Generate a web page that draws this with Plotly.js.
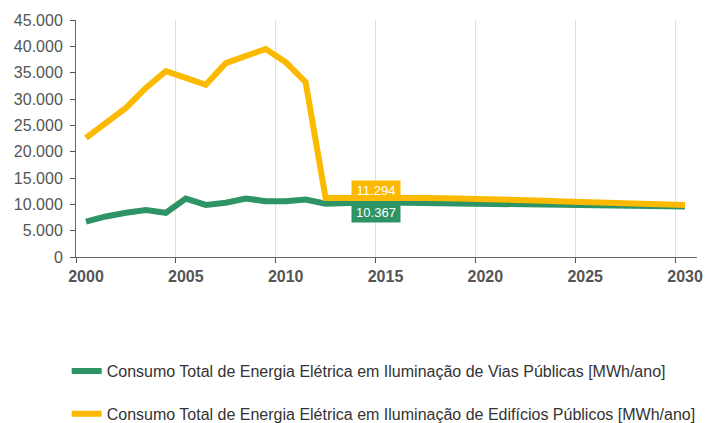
<!DOCTYPE html>
<html>
<head>
<meta charset="utf-8">
<script src="https://cdn.plot.ly/plotly-3.0.1.min.js"></script>
<style>
  html, body { margin: 0; padding: 0; background: #fff; }
  #graph { width: 707px; height: 423px; }
</style>
</head>
<body>
<div id="graph"></div>
<script>
// anos (os pontos ficam no meio de cada ano)
const anos = [2000, 2001, 2002, 2003, 2004, 2005, 2006, 2007, 2008, 2009,
              2010, 2011, 2012, 2013, 2014, 2015, 2016, 2017, 2018, 2019,
              2020, 2021, 2022, 2023, 2024, 2025, 2026, 2027, 2028, 2029, 2030];

// Vias publicas [MWh/ano]
const viasPublicas = [6700, 7700, 8400, 8900, 8400, 11100, 9900, 10300, 11100, 10600,
                      10600, 10900, 10100, 10300, 10367, 10350, 10300, 10250, 10200, 10150,
                      10100, 10050, 10000, 9950, 9900, 9850, 9800, 9750, 9700, 9650, 9600];

// Edificios publicos [MWh/ano]
const edificiosPublicos = [22600, 25300, 28300, 32100, 35300, 34000, 32700, 36800, 38300, 39500,
                           37000, 33200, 11200, 11250, 11294, 11290, 11250, 11200, 11150, 11100,
                           11000, 10900, 10800, 10700, 10550, 10450, 10300, 10200, 10050, 9950, 9850];

const nomeVias = 'Consumo Total de Energia Elétrica em Iluminação de Vias Públicas [MWh/ano]';
const nomeEdificios = 'Consumo Total de Energia Elétrica em Iluminação de Edifícios Públicos [MWh/ano]';

const anoRotulo = 2015;
const idxRotulo = anos.indexOf(2014);

const verde = '#2e9466';
const amarelo = '#fbba00';

const xMeio = anos.map(a => a + 0.5);

const graph = document.getElementById('graph');

const traces = [
    {
        type: 'scatter',
        mode: 'lines',
        x: xMeio,
        y: viasPublicas,
        name: nomeVias,
        line: {color: verde, width: 6},
        legend: 'legend'
    },
    {
        type: 'scatter',
        mode: 'lines',
        x: xMeio,
        y: edificiosPublicos,
        name: nomeEdificios,
        line: {color: amarelo, width: 6},
        legend: 'legend2'
    }
];

const fmt = v => v.toLocaleString('de-DE');

const legendaBase = {
    orientation: 'v',
    xanchor: 'left',
    yanchor: 'middle',
    x: -0.015,
    bgcolor: 'rgba(0,0,0,0)',
    font: {family: 'Liberation Sans, Arial, sans-serif', size: 16, color: '#333'},
    itemwidth: 30
};

const layout = {
    width: 707,
    height: 423,
    margin: {l: 76, r: 10, t: 20, b: 166, autoexpand: false},
    paper_bgcolor: '#fff',
    plot_bgcolor: '#fff',
    separators: ',.',
    showlegend: true,
    font: {family: 'Liberation Sans, Arial, sans-serif', color: '#555'},
    xaxis: {
        range: [2000, 2031.1],
        tickvals: [2000, 2005, 2010, 2015, 2020, 2025, 2030],
        ticktext: ['2000', '2005', '2010', '2015', '2020', '2025', '2030'],
        ticklabelshift: 10,
        showgrid: true,
        gridcolor: '#cfe6e4',
        gridwidth: 1,
        zeroline: false,
        showline: true,
        linecolor: '#666',
        linewidth: 1,
        ticks: 'outside',
        ticklen: 5,
        tickcolor: '#555',
        tickfont: {family: 'Liberation Sans, Arial, sans-serif', size: 16, color: '#555', weight: 'bold'}
    },
    yaxis: {
        range: [0, 45000],
        dtick: 5000,
        tickformat: ',d',
        showgrid: false,
        zeroline: false,
        showline: true,
        linecolor: '#666',
        linewidth: 1,
        ticks: 'outside',
        ticklen: 5,
        tickcolor: '#555',
        ticklabelstandoff: 4,
        tickfont: {family: 'Liberation Sans, Arial, sans-serif', size: 16, color: '#555'}
    },
    legend: Object.assign({}, legendaBase, {y: -0.481}),
    legend2: Object.assign({}, legendaBase, {y: -0.662}),
    annotations: [
        {
            x: anoRotulo,
            y: edificiosPublicos[idxRotulo],
            xref: 'x', yref: 'y',
            text: fmt(edificiosPublicos[idxRotulo]),
            showarrow: false,
            yanchor: 'bottom',
            yshift: -3,
            bgcolor: amarelo,
            borderpad: 2,
            width: 44,
            font: {family: 'Liberation Sans, Arial, sans-serif', size: 13, color: '#fff'}
        },
        {
            x: anoRotulo,
            y: viasPublicas[idxRotulo],
            xref: 'x', yref: 'y',
            text: fmt(viasPublicas[idxRotulo]),
            showarrow: false,
            yanchor: 'top',
            yshift: 0,
            bgcolor: verde,
            borderpad: 2,
            width: 44,
            font: {family: 'Liberation Sans, Arial, sans-serif', size: 13, color: '#fff'}
        }
    ]
};

const config = {responsive: false, displayModeBar: false, staticPlot: true};

Plotly.newPlot(graph, traces, layout, config);
</script>
</body>
</html>
